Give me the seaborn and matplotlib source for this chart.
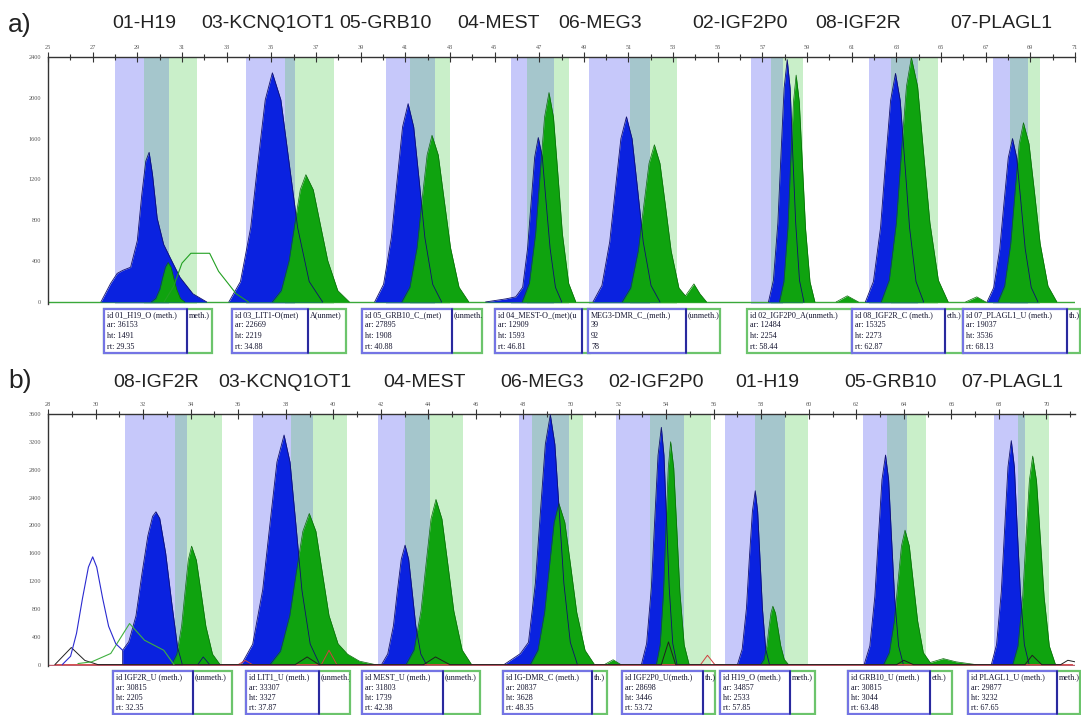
import matplotlib
matplotlib.use("Agg")
import matplotlib.pyplot as plt
from matplotlib.patches import Rectangle
import seaborn as sns

W, H = 1081, 715

# ---------------- panel a ----------------
a_genes = ["01-H19", "03-KCNQ1OT1", "05-GRB10", "04-MEST", "06-MEG3", "02-IGF2P0", "08-IGF2R", "07-PLAGL1"]
# lavender start, teal start, green start, green end (x units)
a_bands = [[28.02, 29.31, 30.42, 31.67], [33.89, 35.62, 36.07, 37.80], [40.16, 41.22, 42.33, 43.00],
           [45.76, 46.47, 47.67, 48.33], [49.22, 51.09, 51.98, 53.18], [56.51, 57.40, 57.93, 58.82],
           [61.76, 62.78, 63.98, 64.87], [67.31, 68.11, 68.91, 69.44]]
a_blue_x = [[27.37, 27.8, 28.1, 28.35, 28.7, 29.0, 29.2, 29.38, 29.53, 29.68, 29.89, 30.18, 30.47, 30.91, 31.49, 32.11],
            [33.10, 33.62, 34.08, 34.40, 34.73, 35.05, 35.43, 35.80, 36.18, 36.70, 37.30],
            [39.63, 40.03, 40.38, 40.63, 40.88, 41.13, 41.38, 41.63, 41.88, 42.23, 42.63],
            [44.6, 45.5, 45.95, 46.26, 46.48, 46.64, 46.80, 46.96, 47.14, 47.31, 47.49, 47.73, 48.01],
            [49.41, 49.81, 50.16, 50.41, 50.66, 50.91, 51.16, 51.41, 51.66, 52.01, 52.41],
            [57.27, 57.49, 57.69, 57.83, 57.97, 58.11, 58.24, 58.36, 58.49, 58.66, 58.86],
            [61.61, 61.97, 62.29, 62.51, 62.74, 62.96, 63.17, 63.38, 63.59, 63.88, 64.22],
            [67.06, 67.36, 67.63, 67.82, 68.01, 68.2, 68.39, 68.58, 68.77, 69.04, 69.34]]
a_blue_y = [[0, 180, 280, 310, 340, 600, 1050, 1380, 1466, 1250, 821, 564, 435, 242, 80, 0],
            [0, 200, 730, 1363, 1980, 2245, 1980, 1363, 730, 200, 0],
            [0, 173, 631, 1179, 1714, 1943, 1714, 1179, 631, 173, 0],
            [0, 30, 50, 143, 524, 978, 1421, 1611, 1421, 978, 524, 143, 0],
            [0, 161, 590, 1101, 1600, 1814, 1600, 1101, 590, 161, 0],
            [0, 211, 772, 1441, 2094, 2374, 2094, 1441, 772, 211, 0],
            [0, 199, 728, 1359, 1975, 2239, 1975, 1359, 728, 199, 0],
            [0, 142, 520, 972, 1412, 1601, 1412, 972, 520, 142, 0]]
a_green_x = [[29.63, 29.83, 30.01, 30.13, 30.26, 30.38, 30.51, 30.63, 30.76, 30.93, 31.13],
             [35.05, 35.45, 35.80, 36.05, 36.30, 36.55, 36.88, 37.20, 37.53, 37.98, 38.50],
             [40.85, 41.21, 41.53, 41.75, 41.98, 42.2, 42.48, 42.75, 43.03, 43.41, 43.85],
             [46.24, 46.56, 46.84, 47.04, 47.24, 47.44, 47.64, 47.84, 48.04, 48.32, 48.64],
             [50.72, 51.10, 51.44, 51.68, 51.92, 52.16, 52.41, 52.66, 52.91, 53.26, 53.55, 53.93, 54.2, 54.5],
             [57.76, 57.96, 58.14, 58.26, 58.39, 58.51, 58.65, 58.79, 58.93, 59.13, 59.35],
             [62.32, 62.68, 63.0, 63.22, 63.45, 63.67, 63.95, 64.22, 64.5, 64.88, 65.32],
             [67.55, 67.85, 68.12, 68.31, 68.5, 68.69, 68.94, 69.19, 69.44, 69.79, 70.19],
             [60.3, 60.8, 61.3], [66.1, 66.6, 67.0]]
a_green_y = [[0, 34, 126, 235, 341, 387, 341, 235, 126, 34, 0],
             [0, 111, 405, 757, 1100, 1247, 1100, 757, 405, 111, 0],
             [0, 145, 531, 991, 1440, 1633, 1440, 991, 531, 145, 0],
             [0, 183, 667, 1246, 1810, 2052, 1810, 1246, 667, 183, 0],
             [0, 137, 501, 935, 1358, 1540, 1358, 935, 501, 137, 60, 177, 80, 0],
             [0, 198, 722, 1349, 1961, 2223, 1961, 1349, 722, 198, 0],
             [0, 213, 778, 1453, 2112, 2394, 2112, 1453, 778, 213, 0],
             [0, 156, 571, 1066, 1549, 1756, 1549, 1066, 571, 156, 0],
             [0, 60, 0], [0, 50, 0]]
a_open_green_x = [30.2, 30.62, 31.0, 31.4, 32.24, 32.64, 33.43, 33.98]
a_open_green_y = [0, 150, 380, 477, 477, 300, 80, 0]

a_box_text = [["id 01_H19_O (meth.)", "ar: 36153", "ht: 1491", "rt: 29.35"],
              ["id 03_LIT1-O(met)", "ar: 22669", "ht: 2219", "rt: 34.88"],
              ["id 05_GRB10_C_(met)", "ar: 27895", "ht: 1908", "rt: 40.88"],
              ["id 04_MEST-O_(met)(u", "ar: 12909", "ht: 1593", "rt: 46.81"],
              ["MEG3-DMR_C_(meth.)", "39", "92", "78"],
              ["id 02_IGF2P0_A(unmeth.)", "ar: 12484", "ht: 2254", "rt: 58.44"],
              ["id 08_IGF2R_C (meth.)", "ar: 15325", "ht: 2273", "rt: 62.87"],
              ["id 07_PLAGL1_U (meth.)", "ar: 19037", "ht: 3536", "rt: 68.13"]]
a_box_tail = ["meth.)", "A(unmet)", "(unmeth.)", "", "(unmeth.)", "", "eth.)", "th.)"]

# ---------------- panel b ----------------
b_genes = ["08-IGF2R", "03-KCNQ1OT1", "04-MEST", "06-MEG3", "02-IGF2P0", "01-H19", "05-GRB10", "07-PLAGL1"]
b_bands = [[31.22, 33.36, 33.86, 35.32], [36.62, 38.21, 39.13, 40.59], [41.89, 43.02, 44.07, 45.45],
           [47.83, 48.38, 49.92, 50.51], [51.89, 53.31, 54.74, 55.87], [56.49, 57.75, 59.00, 59.97],
           [62.27, 63.31, 64.15, 64.95], [67.79, 68.79, 69.09, 70.09]]
b_blue_x = [[31.14, 31.14, 31.4, 31.7, 31.95, 32.2, 32.4, 32.54, 32.7, 32.95, 33.2, 33.45, 33.65],
            [36.13, 36.61, 37.03, 37.33, 37.63, 37.93, 38.18, 38.43, 38.68, 39.03, 39.43],
            [42.03, 42.29, 42.53, 42.69, 42.86, 43.02, 43.17, 43.32, 43.47, 43.68, 43.92],
            [47.18, 47.87, 48.21, 48.5, 48.71, 48.92, 49.13, 49.32, 49.51, 49.70, 49.97, 50.27],
            [52.96, 53.18, 53.38, 53.52, 53.66, 53.8, 53.91, 54.02, 54.13, 54.28, 54.46],
            [57.0, 57.2, 57.38, 57.5, 57.63, 57.75, 57.85, 57.95, 58.05, 58.19, 58.35],
            [62.33, 62.57, 62.78, 62.93, 63.08, 63.23, 63.36, 63.48, 63.61, 63.78, 63.98],
            [67.68, 67.9, 68.1, 68.24, 68.38, 68.52, 68.65, 68.77, 68.9, 69.07, 69.27],
            [34.3, 34.53, 34.8]]
b_blue_y = [[0, 206, 330, 700, 1300, 1850, 2130, 2195, 2100, 1600, 900, 250, 0],
            [0, 294, 1072, 2002, 2909, 3298, 2909, 2002, 1072, 294, 0],
            [0, 153, 558, 1042, 1513, 1716, 1513, 1042, 558, 153, 0],
            [0, 158, 320, 1167, 2179, 3166, 3590, 3166, 2179, 1167, 320, 0],
            [0, 303, 1108, 2069, 3006, 3408, 3006, 2069, 1108, 303, 0],
            [0, 222, 812, 1516, 2202, 2497, 2202, 1516, 812, 222, 0],
            [0, 268, 978, 1827, 2655, 3010, 2655, 1827, 978, 268, 0],
            [0, 286, 1046, 1953, 2837, 3217, 2837, 1953, 1046, 286, 0],
            [0, 110, 0]]
b_green_x = [[33.2, 33.42, 33.62, 33.76, 33.9, 34.04, 34.24, 34.44, 34.64, 34.92, 35.24],
             [37.34, 37.78, 38.17, 38.44, 38.72, 38.99, 39.27, 39.54, 39.82, 40.2, 40.6, 41.1, 41.77],
             [43.06, 43.4, 43.69, 43.9, 44.11, 44.32, 44.57, 44.82, 45.07, 45.42, 45.82],
             [48.29, 48.61, 48.89, 49.09, 49.29, 49.49, 49.74, 49.99, 50.24, 50.59, 50.99],
             [53.59, 53.75, 53.89, 53.99, 54.09, 54.19, 54.32, 54.45, 54.58, 54.76, 54.97],
             [57.98, 58.12, 58.24, 58.32, 58.41, 58.49, 58.6, 58.71, 58.82, 58.97, 59.15],
             [63.15, 63.39, 63.6, 63.75, 63.9, 64.05, 64.23, 64.4, 64.58, 64.82, 65.11, 65.4, 65.66, 66.2, 67.04],
             [68.58, 68.8, 69.0, 69.14, 69.28, 69.42, 69.58, 69.74, 69.9, 70.12, 70.38],
             [51.4, 51.77, 52.1]]
b_green_y = [[0, 151, 553, 1033, 1501, 1702, 1501, 1033, 553, 151, 0],
             [0, 193, 706, 1318, 1915, 2171, 1915, 1318, 706, 300, 150, 50, 0],
             [0, 211, 771, 1440, 2093, 2373, 2093, 1440, 771, 211, 0],
             [0, 206, 752, 1405, 2042, 2315, 2042, 1405, 752, 206, 0],
             [0, 285, 1041, 1944, 2824, 3202, 2824, 1944, 1041, 285, 0],
             [0, 75, 273, 509, 740, 839, 740, 509, 273, 75, 0],
             [0, 172, 628, 1173, 1704, 1932, 1704, 1173, 628, 172, 30, 60, 86, 40, 0],
             [0, 267, 974, 1819, 2642, 2996, 2642, 1819, 974, 267, 0],
             [0, 70, 0]]
b_open_blue_x = [28.6, 28.95, 29.2, 29.45, 29.7, 29.88, 30.05, 30.3, 30.55, 30.85, 31.14]
b_open_blue_y = [0, 120, 450, 950, 1400, 1548, 1400, 950, 550, 300, 206]
b_open_green_x = [29.26, 29.84, 30.64, 31.43, 32.06, 32.87, 33.3]
b_open_green_y = [15, 40, 160, 590, 350, 206, 0]
b_open_black_x = [28.29, 28.98, 29.55, 30.1, 38.4, 38.9, 39.4, 43.8, 44.3, 44.9, 53.8, 54.1, 54.4,
                  63.7, 64.0, 64.4, 69.1, 69.4, 69.8, 70.6, 70.9, 71.2]
b_open_black_y = [0, 245, 60, 0, 0, 110, 0, 0, 110, 0, 0, 326, 0, 0, 62, 0, 0, 134, 0, 0, 62, 40]
b_open_red_x = [28.3, 36.0, 36.3, 36.6, 39.5, 39.82, 40.15, 55.45, 55.74, 56.05, 71.1]
b_open_red_y = [0, 0, 60, 0, 0, 206, 0, 0, 134, 0, 0]

b_box_text = [["id IGF2R_U (meth.)", "ar: 30815", "ht: 2205", "rt: 32.35"],
              ["id LIT1_U (meth.)", "ar: 33307", "ht: 3327", "rt: 37.87"],
              ["id MEST_U (meth.)", "ar: 31803", "ht: 1739", "rt: 42.38"],
              ["id IG-DMR_C (meth.)", "ar: 20837", "ht: 3628", "rt: 48.35"],
              ["id IGF2P0_U(meth.)", "ar: 28698", "ht: 3446", "rt: 53.72"],
              ["id H19_O (meth.)", "ar: 34857", "ht: 2533", "rt: 57.85"],
              ["id GRB10_U (meth.)", "ar: 30815", "ht: 3044", "rt: 63.48"],
              ["id PLAGL1_U (meth.)", "ar: 29877", "ht: 3232", "rt: 67.65"]]
b_box_tail = ["(unmeth.)", "(unmeth.)", "(unmeth.)", "th.)", "th.)", "meth.)", "eth.)", "meth.)"]

# layout (pixels)
a_box_px = [(104, 187, 212, "b"), (232, 308, 346, "b"), (362, 452, 482, "b"), (495, 582, 590, "b"),
            (588, 686, 720, "b"), (747, 852, 852, "g"), (852, 945, 963, "b"), (963, 1067, 1080, "b")]
b_box_px = [(113, 193, 232, "b"), (246, 319, 350, "b"), (362, 443, 480, "b"), (503, 592, 607, "b"),
            (622, 703, 715, "b"), (720, 790, 815, "b"), (848, 930, 952, "b"), (968, 1057, 1080, "b")]
a_title_px = [144, 268, 385, 498, 600, 740, 858, 1001]
b_title_px = [156, 285, 424, 542, 656, 767, 890, 1012]

LAV, TEAL, LGREEN = "#c6c8fa", "#a5c6cc", "#c9efc9"
BLUE, GREEN = "#0a22e0", "#0fa30f"

sns.set_style("white")
plt.rcParams["font.family"] = ["Liberation Sans", "DejaVu Sans"]


def px_axes(fig, left, top, right, bottom):
    return fig.add_axes([left / W, 1 - bottom / H, (right - left) / W, (bottom - top) / H])


def draw_panel(ax, bands, bx, by, gx, gy, xlim, ylim, xticks, yticks):
    for b in bands:
        ax.axvspan(b[0], b[1], color=LAV, lw=0, zorder=0)
        ax.axvspan(b[1], b[2], color=TEAL, lw=0, zorder=0)
        ax.axvspan(b[2], b[3], color=LGREEN, lw=0, zorder=0)
    for x, y in zip(bx, by):
        ax.fill_between(x, y, 0, color=BLUE, lw=0, zorder=2)
    for x, y in zip(gx, gy):
        ax.fill_between(x, y, 0, color=GREEN, lw=0, zorder=3)
    for x, y in zip(bx, by):
        sns.lineplot(x=x, y=y, ax=ax, color="#101070", lw=0.6, sort=False, estimator=None, zorder=5)
    for x, y in zip(gx, gy):
        sns.lineplot(x=x, y=y, ax=ax, color="#0a6a0a", lw=0.5, sort=False, estimator=None, zorder=4)
    ax.set_xlim(*xlim)
    ax.set_ylim(*ylim)
    ax.xaxis.tick_top()
    ax.set_xticks(xticks[::2])
    ax.set_xticks(xticks[1::2], minor=True)
    ax.set_yticks(yticks[::2])
    ax.set_yticks(yticks[1::2], minor=True)
    ax.tick_params(which="both", direction="inout", color="#333333", width=0.8,
                   labelsize=4.5, labelcolor="#555555", pad=1.5)
    ax.tick_params(which="major", length=7)
    ax.tick_params(which="minor", length=5)
    for lab in ax.get_xticklabels() + ax.get_yticklabels():
        lab.set_family("Liberation Serif")
    for s in ["right", "bottom"]:
        ax.spines[s].set_visible(False)
    for s in ["top", "left"]:
        ax.spines[s].set_color("#333333")
        ax.spines[s].set_linewidth(1.0)
    ax.set_xlabel("")
    ax.set_ylabel("")


def draw_boxes(fig, boxes, texts, tails, top, bottom):
    for (bl, br, gr, kind), lines, tail in zip(boxes, texts, tails):
        main = "#7474e4" if kind == "b" else "#6cc46c"
        y0, hh = 1 - bottom / H, (bottom - top) / H
        if gr > br:
            back = Rectangle((bl / W, y0), (gr - bl) / W, hh, transform=fig.transFigure,
                             fc="white", ec="#6cc46c", lw=1.6)
            fig.add_artist(back)
            if tail:
                t = fig.text((br + 2) / W, 1 - (top + 6) / H, tail, fontsize=5.9,
                             family="Liberation Serif", color="#151530", va="center", ha="left")
                t.set_clip_path(back)
        front = Rectangle((bl / W, y0), (br - bl) / W, hh, transform=fig.transFigure,
                          fc="white", ec=main, lw=1.6)
        fig.add_artist(front)
        if kind == "b":
            fig.add_artist(plt.Line2D([br / W, br / W], [y0, y0 + hh],
                                      transform=fig.transFigure, color="#1a1a90", lw=1.2))
        for i, line in enumerate(lines):
            t = fig.text((bl + 3) / W, 1 - (top + 6 + i * 10.5) / H, line, fontsize=5.9,
                         family="Liberation Serif", color="#151530", va="center", ha="left")
            t.set_clip_path(front)


fig = plt.figure(figsize=(W / 100, H / 100), dpi=100)

ax_a = px_axes(fig, 48, 57, 1075, 304)
draw_panel(ax_a, a_bands, a_blue_x, a_blue_y, a_green_x, a_green_y,
           (25.3, 71.0), (-20, 2400), list(range(25, 72)), list(range(0, 2401, 200)))
ax_a.axhline(0, color="#3aa83a", lw=1.0, zorder=1)
sns.lineplot(x=a_open_green_x, y=a_open_green_y, ax=ax_a, color="#22a022", lw=0.8,
             sort=False, estimator=None, zorder=6)

ax_b = px_axes(fig, 48, 414, 1075, 666)
draw_panel(ax_b, b_bands, b_blue_x, b_blue_y, b_green_x, b_green_y,
           (28.28, 71.2), (-20, 3600), list(range(28, 72)), list(range(0, 3601, 200)))
ax_b.axhline(0, color="#c06070", lw=1.0, zorder=1)
sns.lineplot(x=b_open_red_x, y=b_open_red_y, ax=ax_b, color="#d04040", lw=0.7, sort=False, estimator=None, zorder=6)
sns.lineplot(x=b_open_black_x, y=b_open_black_y, ax=ax_b, color="#202020", lw=0.7, sort=False, estimator=None, zorder=6)
sns.lineplot(x=b_open_green_x, y=b_open_green_y, ax=ax_b, color="#40b040", lw=0.8, sort=False, estimator=None, zorder=6)
sns.lineplot(x=b_open_blue_x, y=b_open_blue_y, ax=ax_b, color="#2a2ad0", lw=0.8, sort=False, estimator=None, zorder=6)

draw_boxes(fig, a_box_px, a_box_text, a_box_tail, 309, 353)
draw_boxes(fig, b_box_px, b_box_text, b_box_tail, 671, 714)

fig.text(8 / W, 1 - 25 / H, "a)", fontsize=19, color="#222222", va="center", ha="left")
fig.text(8 / W, 1 - 381 / H, "b)", fontsize=19, color="#222222", va="center", ha="left")
for g, cx in zip(a_genes, a_title_px):
    fig.text(cx / W, 1 - 24 / H, g, fontsize=14, color="#222222", va="center", ha="center")
for g, cx in zip(b_genes, b_title_px):
    fig.text(cx / W, 1 - 382 / H, g, fontsize=14, color="#222222", va="center", ha="center")

fig.savefig("out.png", dpi=100)
